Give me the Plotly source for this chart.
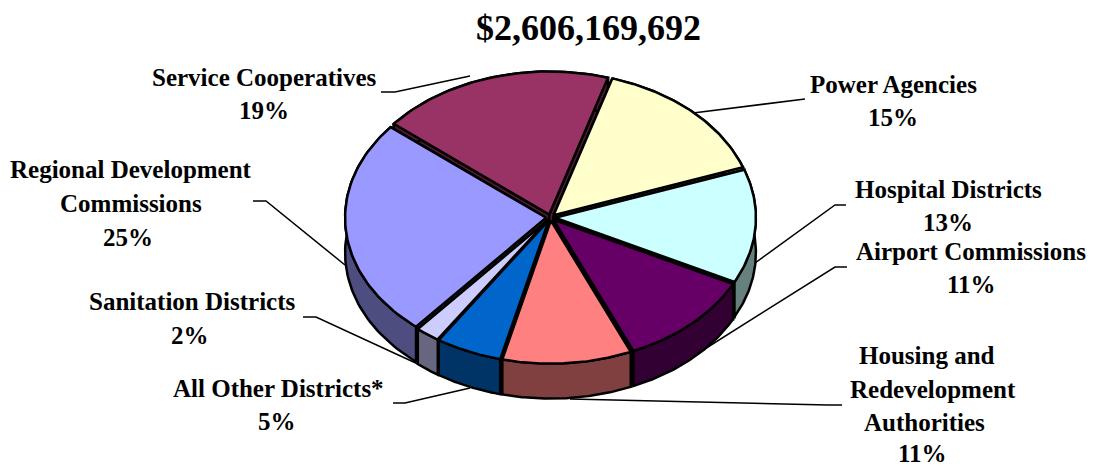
import numpy as np
import plotly.graph_objects as go

categories = ["Power Agencies", "Hospital Districts", "Airport Commissions",
              "Housing and Redevelopment Authorities", "All Other Districts*",
              "Sanitation Districts", "Regional Development Commissions",
              "Service Cooperatives"]
shares = [15, 13, 11.2, 10.5, 5.4, 2, 25, 19]
top_colors = ["#FFFFCC", "#CCFFFF", "#660066", "#FF8080", "#0066CC", "#CCCCFF", "#9999FF", "#993366"]
wall_colors = ["#808066", "#668080", "#330033", "#804040", "#003366", "#666680", "#4D4D80", "#4D1933"]
title_text = "$2,606,169,692"

# layout of the text lines: (text, centre x, centre y) in page pixels
label_lines = [
    ("Service Cooperatives", 264, 77), ("19%", 264, 110),
    ("Power Agencies", 893, 84), ("15%", 893, 117),
    ("Hospital Districts", 948, 189), ("13%", 948, 222),
    ("Airport Commissions", 971, 251), ("11%", 971, 284),
    ("Housing and", 927, 355), ("Redevelopment", 933, 389), ("Authorities", 924, 422), ("11%", 922, 453),
    ("Regional Development", 131, 169), ("Commissions", 131, 203), ("25%", 128, 237),
    ("Sanitation Districts", 192, 301), ("2%", 190, 335),
    ("All Other Districts*", 278, 388), ("5%", 277, 421),
]
leaders = [
    [(381, 92), (395, 92), (470, 76)],
    [(805, 99), (693, 113)],
    [(846, 205), (835, 205), (755, 263)],
    [(847, 267), (835, 267), (700, 352)],
    [(842, 405), (828, 405), (570, 399)],
    [(393, 403), (405, 403), (470, 388)],
    [(303, 317), (316, 317), (420, 365)],
    [(253, 201), (266, 201), (345, 265)],
]

CX, CY, RX, RY, DEPTH = 550.5, 217.5, 201, 143, 35
START_DEG, EXPLODE = 17.0, 0.022

fig = go.Figure()


def add_poly(xs, ys, color):
    fig.add_trace(go.Scatter(x=list(xs) + [xs[0]], y=list(ys) + [ys[0]], mode="lines", fill="toself",
                             fillcolor=color, line=dict(color="black", width=2.5),
                             hoverinfo="skip", showlegend=False))


total = sum(shares)
edges = START_DEG + np.concatenate([[0], np.cumsum(shares)]) * 360.0 / total
order = sorted(range(len(shares)), key=lambda i: -np.cos(np.radians((edges[i] + edges[i + 1]) / 2)))

for i in order:
    a0, a1 = np.radians(edges[i]), np.radians(edges[i + 1])
    mid = (a0 + a1) / 2
    ox = CX + EXPLODE * RX * np.sin(mid)
    oy = CY - EXPLODE * RY * np.cos(mid)
    t = np.linspace(a0, a1, 60)
    ax = ox + RX * np.sin(t)
    ay = oy - RY * np.cos(t)
    # radial walls
    add_poly([ox, ax[0], ax[0], ox], [oy, ay[0], ay[0] + DEPTH, oy + DEPTH], wall_colors[i])
    add_poly([ox, ax[-1], ax[-1], ox], [oy, ay[-1], ay[-1] + DEPTH, oy + DEPTH], wall_colors[i])
    # rim
    add_poly(np.r_[ax, ax[::-1]], np.r_[ay, ay[::-1] + DEPTH], wall_colors[i])
    # top
    add_poly(np.r_[ox, ax], np.r_[oy, ay], top_colors[i])

font = dict(family="Liberation Serif", color="black")
annotations = [dict(x=588, y=28, text=f"<b>{title_text}</b>", showarrow=False,
                    font=dict(size=36, **font), xanchor="center", yanchor="middle")]
for text, x, y in label_lines:
    annotations.append(dict(x=x, y=y, text=f"<b>{text}</b>", showarrow=False,
                            font=dict(size=25, **font), xanchor="center", yanchor="middle"))

shapes = []
for pts in leaders:
    path = "M " + " L ".join(f"{x} {y}" for x, y in pts)
    shapes.append(dict(type="path", path=path, layer="below", line=dict(color="black", width=1.5)))

fig.update_layout(
    width=1094, height=468, margin=dict(l=0, r=0, t=0, b=0),
    paper_bgcolor="white", plot_bgcolor="white", showlegend=False,
    xaxis=dict(range=[0, 1094], visible=False, fixedrange=True),
    yaxis=dict(range=[468, 0], visible=False, fixedrange=True),
    annotations=annotations, shapes=shapes,
)
fig.write_html("out.html", config=dict(displayModeBar=False),
               post_script="document.body.style.margin='0';document.body.style.overflow='hidden';")
